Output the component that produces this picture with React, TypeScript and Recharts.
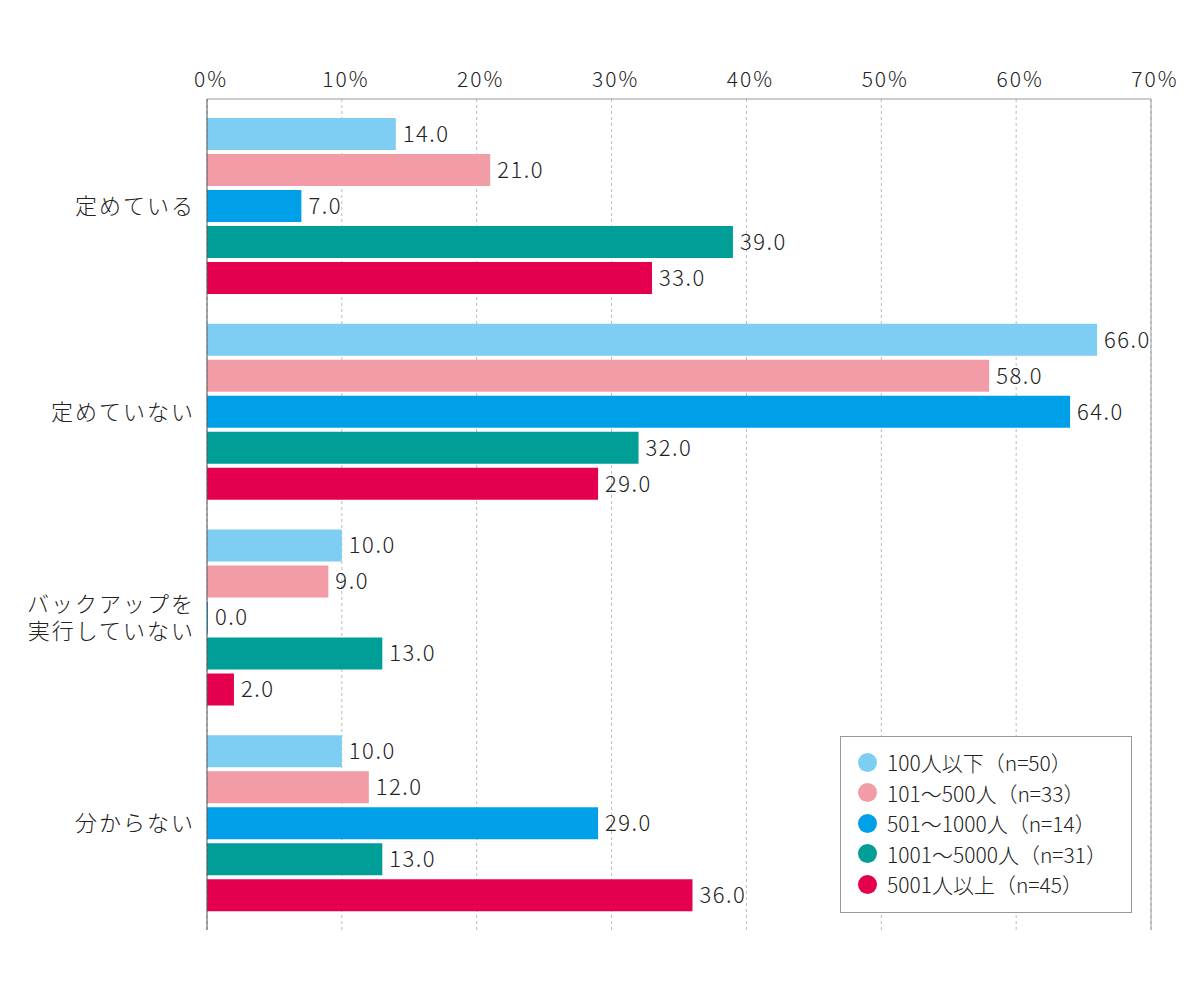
import React from 'react';
import {
  BarChart,
  Bar,
  XAxis,
  YAxis,
  CartesianGrid,
  Legend,
  LabelList,
  ReferenceLine,
} from 'recharts';

const categories = ['定めている', '定めていない', 'バックアップを\n実行していない', '分からない'];
const seriesNames = [
  '100人以下（n=50）',
  '101〜500人（n=33）',
  '501〜1000人（n=14）',
  '1001〜5000人（n=31）',
  '5001人以上（n=45）',
];
const seriesColors = ['#7ECEF4', '#F19CA7', '#00A0E9', '#009E96', '#E4004F'];
const upTo100 = [14, 66, 10, 10];
const upTo500 = [21, 58, 9, 12];
const upTo1000 = [7, 64, 0, 29];
const upTo5000 = [39, 32, 13, 13];
const over5000 = [33, 29, 2, 36];
const xTicks = [0, 10, 20, 30, 40, 50, 60, 70];

const seriesValues = [upTo100, upTo500, upTo1000, upTo5000, over5000];
const data = categories.map((category, i) => {
  const row: Record<string, string | number> = { category };
  seriesValues.forEach((vals, s) => {
    row['s' + s] = vals[i];
  });
  return row;
});

const FONT = '"Noto Sans CJK JP", "Noto Sans", sans-serif';
const TEXT = '#222';
const WEIGHT = 300;

const CategoryTick = (props: any) => {
  const { x, y, payload } = props;
  const lines = String(payload.value).split('\n');
  const lh = 27;
  return (
    <g>
      {lines.map((line, i) => (
        <text
          key={i}
          x={x}
          y={y + 8 + (i - (lines.length - 1) / 2) * lh}
          textAnchor="end"
          fill={TEXT}
          fontSize={22}
          fontWeight={WEIGHT}
          fontFamily={FONT}
          letterSpacing={2}
        >
          {line}
        </text>
      ))}
    </g>
  );
};

// legend drawn from the series arrays so the order stays as in the chart
const LegendBox = () => (
  <div
    style={{
      boxSizing: 'border-box',
      width: 292,
      height: 177,
      border: '1px solid #999',
      background: '#fff',
      padding: '10px 0 0 17px',
      fontFamily: FONT,
      fontSize: 21,
      fontWeight: WEIGHT,
      color: TEXT,
      whiteSpace: 'nowrap',
    }}
  >
    {seriesNames.map((name, i) => (
      <div key={name} style={{ display: 'flex', alignItems: 'center', height: 30.5 }}>
        <span
          style={{
            display: 'inline-block',
            width: 19,
            height: 19,
            borderRadius: '50%',
            background: seriesColors[i],
            marginRight: 10,
          }}
        />
        <span>{name}</span>
      </div>
    ))}
  </div>
);

export default function App() {
  return (
    <div style={{ fontFamily: FONT }}>
      <BarChart
        width={1184}
        height={984}
        data={data}
        layout="vertical"
        barGap={4}
        margin={{ top: 61, right: 41, bottom: 62, left: 0 }}
      >
        <CartesianGrid horizontal={false} strokeDasharray="3 3" stroke="#bbb" />
        <XAxis
          type="number"
          orientation="top"
          height={30}
          domain={[0, 70]}
          ticks={xTicks}
          interval={0}
          tickFormatter={(v) => v + '%'}
          axisLine={{ stroke: '#999' }}
          tickLine={false}
          tickMargin={6}
          dx={4}
          tick={{ fill: TEXT, fontSize: 21, fontWeight: WEIGHT, fontFamily: FONT, letterSpacing: 2 }}
        />
        <XAxis
          xAxisId="bottom"
          type="number"
          orientation="bottom"
          height={0}
          domain={[0, 70]}
          tick={false}
          tickLine={false}
          axisLine={{ stroke: '#aaa' }}
        />
        <YAxis
          type="category"
          dataKey="category"
          width={199}
          padding={{ top: 4, bottom: 4 }}
          axisLine={{ stroke: '#555' }}
          tickLine={false}
          tickMargin={6}
          tick={<CategoryTick />}
        />
        <ReferenceLine x={70} stroke="#999" />
        {seriesNames.map((name, s) => (
          <Bar
            key={name}
            dataKey={'s' + s}
            name={name}
            fill={seriesColors[s]}
            barSize={32}
            minPointSize={1}
            isAnimationActive={false}
          >
            <LabelList
              dataKey={'s' + s}
              position="right"
              offset={7}
              fill={TEXT}
              fontSize={22}
              fontWeight={WEIGHT}
              fontFamily={FONT}
              letterSpacing={1.5}
              formatter={(v: any) => Number(v).toFixed(1)}
            />
          </Bar>
        ))}
        <Legend
          layout="vertical"
          align="center"
          verticalAlign="middle"
          content={<LegendBox />}
          wrapperStyle={{ left: 832, top: 728, width: 292, height: 177 }}
        />
      </BarChart>
    </div>
  );
}
